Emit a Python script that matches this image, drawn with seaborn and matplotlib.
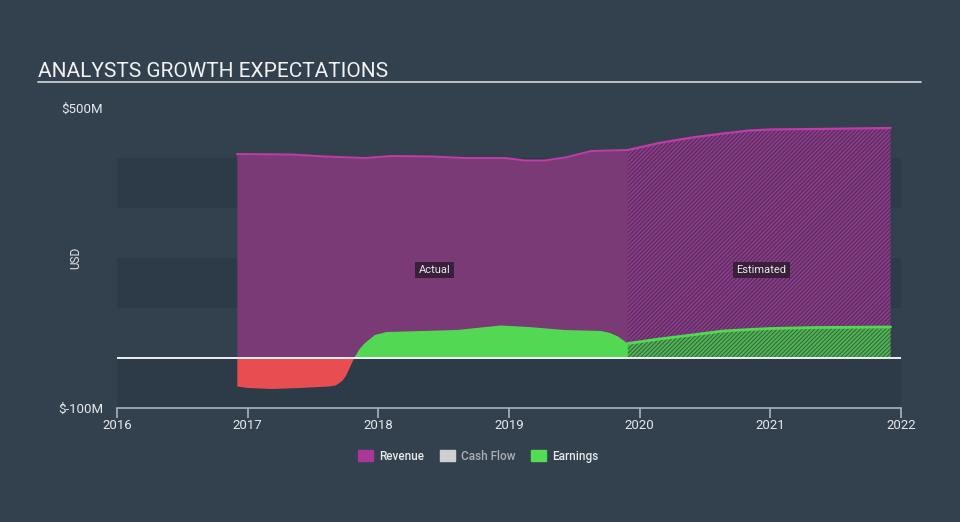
import matplotlib
matplotlib.use("Agg")
import matplotlib.pyplot as plt
import matplotlib.lines as mlines
import matplotlib.patches as mpatches
import numpy as np
import pandas as pd
import seaborn as sns

# ---------------- data (USD millions) ----------------
rev_actual_years = [2016.917, 2017.34, 2017.59, 2017.90, 2018.10, 2018.41, 2018.66,
                    2018.97, 2019.12, 2019.27, 2019.43, 2019.63, 2019.91]
rev_actual = [408, 407, 403, 400, 404, 403, 400, 400, 395, 395, 401, 414, 416]

earn_actual_years = [2016.917, 2017.00, 2017.18, 2017.40, 2017.62, 2017.67, 2017.72,
                     2017.75, 2017.81, 2017.85, 2017.89, 2017.97, 2018.06, 2018.33,
                     2018.60, 2018.93, 2019.15, 2019.42, 2019.70, 2019.77, 2019.83, 2019.91]
earn_actual = [-56, -59, -61, -59, -56, -54, -45, -34, 0, 18, 30, 47, 53, 55,
               57, 66, 63, 57, 55, 51, 44, 29]

est_years = [2019.91, 2020.15, 2020.40, 2020.64, 2020.84, 2021.00, 2021.35, 2021.92]
rev_est = [416, 430, 441, 449, 455, 457, 458, 460]
earn_est = [29, 38, 46, 54, 57, 59, 61, 62]

x_ticks = [2016, 2017, 2018, 2019, 2020, 2021, 2022]
y_ticks = [-100, 500]
y_tick_labels = ["$-100M", "$500M"]
legend_labels = ["Revenue", "Cash Flow", "Earnings"]

# ---------------- style ----------------
BG = "#33414f"
BAND = "#2d3a48"
TXT = "#e6e8ea"
REV_FILL = "#7a3a75"
REV_LINE = "#c03ca8"
EARN_G = "#53d853"
EARN_R = "#e84e51"

sns.set_theme(style="dark")
plt.rcParams["font.family"] = ["Roboto", "DejaVu Sans"]
plt.rcParams["hatch.linewidth"] = 1.4

fig = plt.figure(figsize=(9.6, 5.22), dpi=100, facecolor=BG)
ax = fig.add_axes([117 / 960, 1 - 408 / 522, (901 - 117) / 960, 300 / 522])
ax.set_facecolor(BG)
ax.set_xlim(2016, 2022)
ax.set_ylim(-100, 500)

# horizontal bands
for lo, hi in [(300, 400), (100, 200), (-100, 0)]:
    ax.axhspan(lo, hi, color=BAND, lw=0, zorder=0)

ra = pd.DataFrame({"year": rev_actual_years, "value": rev_actual})
ea = pd.DataFrame({"year": earn_actual_years, "value": earn_actual})
es = pd.DataFrame({"year": est_years, "rev": rev_est, "earn": earn_est})

# revenue actual
ax.fill_between(ra["year"], 0, ra["value"], color=REV_FILL, lw=0, zorder=2)
# revenue estimated (hatched)
ax.fill_between(es["year"], 0, es["rev"], facecolor="#4a2d52", edgecolor="#8c3b8a",
                hatch="////////", lw=0, zorder=2)

# earnings actual
ea_y = np.array(earn_actual, dtype=float)
ax.fill_between(ea["year"], 0, ea_y, where=ea_y >= 0, interpolate=True,
                color=EARN_G, lw=0, zorder=3)
ax.fill_between(ea["year"], 0, ea_y, where=ea_y <= 0, interpolate=True,
                color=EARN_R, lw=0, zorder=3)
# earnings estimated (hatched)
ax.fill_between(es["year"], 0, es["earn"], facecolor="#3c5a4c", edgecolor="#4cb84c",
                hatch="////////", lw=0, zorder=3)

# edge lines via seaborn
sns.lineplot(data=ra, x="year", y="value", ax=ax, color=REV_LINE, lw=1.4, zorder=4)
sns.lineplot(data=es, x="year", y="rev", ax=ax, color=REV_LINE, lw=1.6, zorder=4)
sns.lineplot(data=es, x="year", y="earn", ax=ax, color=EARN_G, lw=2.0, zorder=5)

# zero line
ax.axhline(0, color="white", lw=1.3, zorder=6)

# annotations
box = dict(boxstyle="square,pad=0.3", fc="#3a1f3a", ec="none")
ax.text(2018.43, 176, "Actual", color=TXT, fontsize=8, ha="center", va="center",
        bbox=box, zorder=7)
ax.text(2020.93, 176, "Estimated", color=TXT, fontsize=8, ha="center", va="center",
        bbox=box, zorder=7)

# axes styling
for s in ["top", "right", "left"]:
    ax.spines[s].set_visible(False)
ax.spines["bottom"].set_color("#aab3bd")
ax.spines["bottom"].set_linewidth(1.2)
ax.set_xticks(x_ticks)
ax.set_xticklabels([str(t) for t in x_ticks])
ax.set_yticks(y_ticks)
ax.set_yticklabels(y_tick_labels)
ax.tick_params(axis="x", colors="#aab3bd", length=7, width=1.2, direction="out",
               pad=1, labelcolor=TXT, labelsize=9.5, bottom=True)
ax.tick_params(axis="y", length=0, pad=10, labelcolor=TXT, labelsize=9.5)
ax.grid(False)
ax.set_xlabel("")
ax.set_ylabel("USD", color=TXT, fontsize=8.5)
ax.yaxis.set_label_coords(-35 / 784, 0.5)

# title and rule
fig.text(38 / 960, 1 - 77 / 522, "ANALYSTS GROWTH EXPECTATIONS", color="#f2f2f2",
         fontsize=15, ha="left", va="baseline")
fig.add_artist(mlines.Line2D([38 / 960, 921 / 960], [1 - 82 / 522, 1 - 82 / 522],
                             color="#c8ccd0", lw=1.3))

# legend
handles = [
    mpatches.Patch(color="#a9379a", label=legend_labels[0]),
    mpatches.Patch(color="#cfcfcf", label=legend_labels[1]),
    mpatches.Patch(color="#52dc52", label=legend_labels[2]),
]
leg = fig.legend(handles=handles, loc="center", bbox_to_anchor=(478 / 960, 1 - 456 / 522),
                 ncol=3, frameon=False, fontsize=8.5, handlelength=1.3, handleheight=1.1,
                 handletextpad=0.5, columnspacing=1.3)
for t, c in zip(leg.get_texts(), [TXT, "#a9aeb3", TXT]):
    t.set_color(c)
    t.set_fontweight("medium")

fig.savefig("out.png", dpi=100, facecolor=BG)
